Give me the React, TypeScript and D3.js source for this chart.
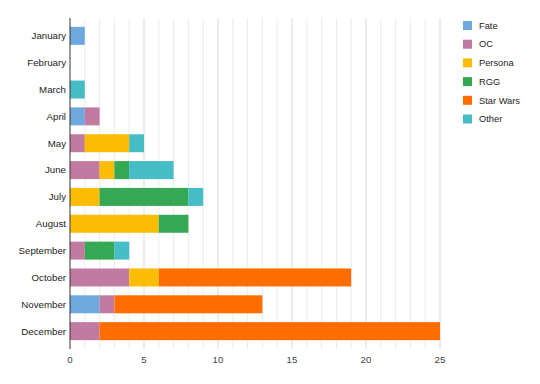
import React from "react";
import * as d3 from "d3";

const months = ["January", "February", "March", "April", "May", "June", "July", "August", "September", "October", "November", "December"];
const seriesNames = ["Fate", "OC", "Persona", "RGG", "Star Wars", "Other"];
const seriesColors = ["#6fa8dc", "#c27ba0", "#fbbc04", "#34a853", "#ff6d01", "#46bdc6"];

const fate = [1, 0, 0, 1, 0, 0, 0, 0, 0, 0, 2, 0];
const oc = [0, 0, 0, 1, 1, 2, 0, 0, 1, 4, 1, 2];
const persona = [0, 0, 0, 0, 3, 1, 2, 6, 0, 2, 0, 0];
const rgg = [0, 0, 0, 0, 0, 1, 6, 2, 2, 0, 0, 0];
const starWars = [0, 0, 0, 0, 0, 0, 0, 0, 0, 13, 10, 23];
const other = [0, 0, 1, 0, 1, 3, 1, 0, 1, 0, 0, 0];

const xTicks = [0, 5, 10, 15, 20, 25];

const width = 540;
const height = 384;
const margin = { top: 18, right: 100, bottom: 35, left: 70 };

export default function App() {
  const rows = months.map((m, i) => {
    const r: any = { month: m };
    r.Fate = fate[i];
    r.OC = oc[i];
    r.Persona = persona[i];
    r.RGG = rgg[i];
    r["Star Wars"] = starWars[i];
    r.Other = other[i];
    return r;
  });
  const stacked = d3.stack().keys(seriesNames)(rows);

  const x = d3.scaleLinear().domain([0, 25]).range([margin.left, width - margin.right]);
  const y = d3
    .scaleBand()
    .domain(months)
    .range([margin.top, height - margin.bottom])
    .paddingInner(0.33)
    .paddingOuter(0.33);
  const color = d3.scaleOrdinal<string, string>().domain(seriesNames).range(seriesColors);
  const gridVals = d3.range(1, 26);
  const font = "Arial, 'Liberation Sans', sans-serif";

  return (
    <svg width={width} height={height} style={{ position: "absolute", left: 0, top: 0, background: "#fff" }}>
      {gridVals.map((v) => (
        <line
          key={v}
          x1={x(v)}
          x2={x(v)}
          y1={margin.top}
          y2={height - margin.bottom}
          stroke={v % 5 === 0 ? "#d9d9d9" : "#ebebeb"}
          strokeWidth={1}
        />
      ))}
      {stacked.map((s) => (
        <g key={s.key} fill={color(s.key)}>
          {s.map((d, i) =>
            d[1] - d[0] > 0 ? (
              <rect key={i} x={x(d[0])} y={y(months[i])} width={x(d[1]) - x(d[0])} height={y.bandwidth()} />
            ) : null
          )}
        </g>
      ))}
      <line x1={x(0)} x2={x(0)} y1={margin.top} y2={height - margin.bottom} stroke="#333" strokeWidth={1} />
      {months.map((m) => (
        <text
          key={m}
          x={margin.left - 4}
          y={(y(m) as number) + y.bandwidth() / 2}
          dy="0.35em"
          textAnchor="end"
          fontFamily={font}
          fontSize={9.7}
          fill="#222"
        >
          {m}
        </text>
      ))}
      {xTicks.map((t) => (
        <text key={t} x={x(t)} y={height - margin.bottom + 14} textAnchor="middle" fontFamily={font} fontSize={9.7} fill="#444">
          {t}
        </text>
      ))}
      {seriesNames.map((n, i) => (
        <g key={n} transform={`translate(463, ${21 + i * 18.7})`}>
          <rect width={9} height={9} fill={color(n)} />
          <text x={16} y={4.5} dy="0.35em" fontFamily={font} fontSize={9.3} fill="#222">
            {n}
          </text>
        </g>
      ))}
    </svg>
  );
}
